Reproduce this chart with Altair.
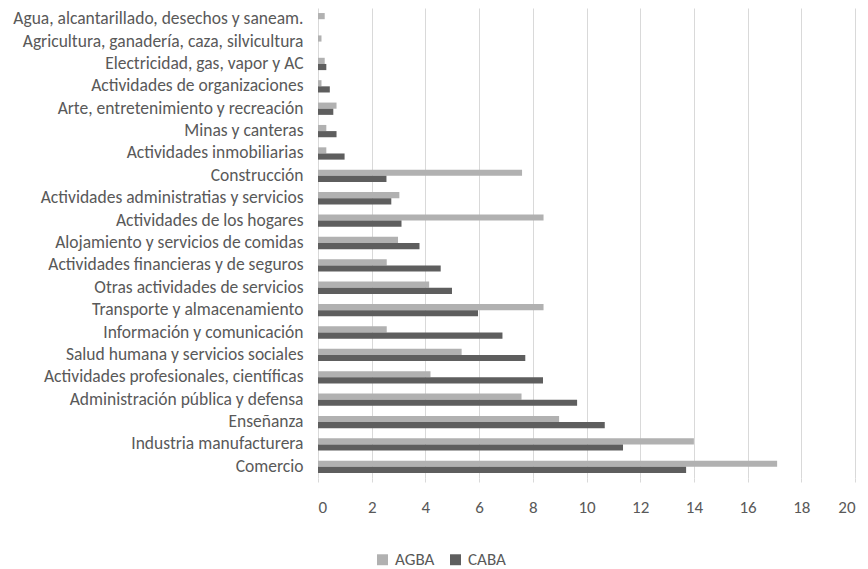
import altair as alt
import pandas as pd

categories = [
    "Agua, alcantarillado, desechos y saneam.",
    "Agricultura, ganadería, caza, silvicultura",
    "Electricidad, gas, vapor y AC",
    "Actividades de organizaciones",
    "Arte, entretenimiento y recreación",
    "Minas y canteras",
    "Actividades inmobiliarias",
    "Construcción",
    "Actividades administratias y servicios",
    "Actividades de los hogares",
    "Alojamiento y servicios de comidas",
    "Actividades financieras y de seguros",
    "Otras actividades de servicios",
    "Transporte y almacenamiento",
    "Información y comunicación",
    "Salud humana y servicios sociales",
    "Actividades profesionales, científicas",
    "Administración pública y defensa",
    "Enseñanza",
    "Industria manufacturera",
    "Comercio",
]
agba = [0.25, 0.13, 0.25, 0.13, 0.69, 0.31, 0.31, 7.6, 3.03, 8.4, 2.98, 2.56,
        4.14, 8.4, 2.56, 5.35, 4.19, 7.58, 8.98, 14.0, 17.1]
caba = [0.0, 0.0, 0.31, 0.44, 0.57, 0.69, 0.99, 2.55, 2.73, 3.11, 3.78, 4.57,
        4.99, 5.96, 6.87, 7.72, 8.38, 9.65, 10.68, 11.36, 13.71]
series = ["AGBA", "CABA"]
colors = ["#b1b1b1", "#5e5e5e"]

rows = []
for c, a, b in zip(categories, agba, caba):
    rows.append({"cat": c, "serie": "AGBA", "val": a})
    rows.append({"cat": c, "serie": "CABA", "val": b})
df = pd.DataFrame(rows)

FONT = "Carlito, Lato, sans-serif"
TXT = "#595959"

chart = alt.Chart(df).mark_bar().encode(
    x=alt.X("val:Q", scale=alt.Scale(domain=[0, 20], nice=False),
            axis=alt.Axis(values=list(range(0, 21, 2)), title=None, domain=False,
                          tickColor="#d9d9d9", tickSize=4, labelPadding=17,
                          gridColor="#d9d9d9", labelFontSize=17, labelColor=TXT,
                          labelFont=FONT)),
    y=alt.Y("cat:N", sort=categories, scale=alt.Scale(paddingInner=0.45, paddingOuter=0.225),
            axis=alt.Axis(title=None, domain=False, ticks=False, labelPadding=15,
                          labelFontSize=17.5, labelColor=TXT, labelFont=FONT, labelLimit=400)),
    yOffset=alt.YOffset("serie:N", sort=series),
    color=alt.Color("serie:N", scale=alt.Scale(domain=series, range=colors),
                    legend=alt.Legend(title=None, orient="none", direction="horizontal",
                                      legendX=56, legendY=543, symbolType="square",
                                      symbolSize=120, labelFontSize=17, labelColor=TXT,
                                      labelFont=FONT, columnPadding=12, labelOffset=4,
                                      symbolStrokeWidth=0)),
).properties(
    width=537, height=470, autosize="none",
    padding={"left": 310, "top": 0, "right": 5, "bottom": 92},
).configure_view(stroke=None)

chart.save("out.html", embed_options={"renderer": "svg", "actions": False})
